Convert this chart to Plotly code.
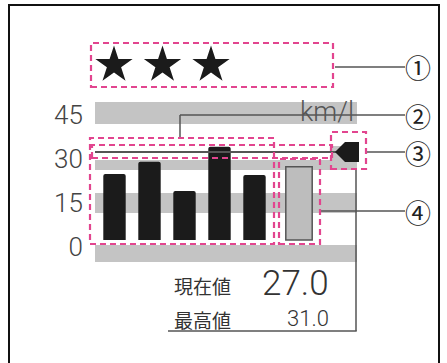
import plotly.graph_objects as go

# 燃費履歴（エコ表示）
HISTORY_VALUES = [22.5, 26.7, 16.7, 31.8, 22.2]
CURRENT_VALUE = [25.0]
BEST_LINE = 30
STAR_COUNT = 3
Y_TICKS = [0, 15, 30, 45]
Y_TICK_TEXT = ["0", "15", "30", "45"]
UNIT = "km/l"
READOUT_LABELS = ["現在値", "最高値"]
READOUT_VALUES = ["27.0", "31.0"]
CALLOUTS = ["①", "②", "③", "④"]

W, H = 447, 363
PINK = "#e2458f"
GRAY_BAND = "#c4c4c4"
LINE = "#555555"
JP = "Noto Sans CJK JP"
NUM = "Roboto"

# 値 -> 画素: 0 は y=240、30 は y=152
S = 88 / 30
Y0 = 240


def fx(p):
    return p / W


def fy(p):
    return 1 - p / H


fig = go.Figure()

# 過去の記録
fig.add_trace(go.Bar(
    x=list(range(len(HISTORY_VALUES))), y=HISTORY_VALUES,
    xaxis="x2", yaxis="y2", width=0.64,
    marker=dict(color="#1b1b1b", line=dict(width=0), cornerradius=2),
    hoverinfo="skip",
))
# 現在値
fig.add_trace(go.Bar(
    x=[0], y=CURRENT_VALUE, xaxis="x3", yaxis="y2", width=0.66,
    marker=dict(color="#bdbdbd", line=dict(color=LINE, width=1.5)),
    hoverinfo="skip",
))
# 星
fig.add_trace(go.Scatter(
    x=list(range(STAR_COUNT)), y=[0.5] * STAR_COUNT, xaxis="x4", yaxis="y3",
    mode="markers",
    marker=dict(symbol="star", size=28, color="#1b1b1b", line=dict(width=0)),
    hoverinfo="skip",
))

shapes = []


def rect(x0, y0, x1, y1, **kw):
    shapes.append(dict(type="rect", xref="paper", yref="paper",
                       x0=fx(x0), x1=fx(x1), y0=fy(y1), y1=fy(y0), **kw))


def line(x0, y0, x1, y1, color=LINE, width=1.5, layer="above"):
    shapes.append(dict(type="line", xref="paper", yref="paper",
                       x0=fx(x0), x1=fx(x1), y0=fy(y0), y1=fy(y1), layer=layer,
                       line=dict(color=color, width=width)))


# 外枠
rect(9, 5, 439, 372, line=dict(color="#111111", width=2), layer="below")

# 灰色の帯
for a, b in [(102, 124), (160, 170), (193, 213), (245, 262)]:
    rect(95, a, 357, b, fillcolor=GRAY_BAND, line=dict(width=0), layer="below")
rect(331, 146, 357, 170, fillcolor=GRAY_BAND, line=dict(width=0), layer="below")

# 基準線とマーカー
shapes.append(dict(type="line", xref="paper", yref="y2", x0=fx(95), x1=fx(338),
                   y0=BEST_LINE, y1=BEST_LINE, line=dict(color=LINE, width=2)))
shapes.append(dict(
    type="path", xref="paper", yref="y2", ysizemode="pixel", yanchor=BEST_LINE,
    path=f"M {fx(335)},0 L {fx(345)},10 L {fx(359)},10 L {fx(359)},-10 L {fx(345)},-10 Z",
    fillcolor="#1b1b1b", line=dict(width=0),
))

# 右下の枠
line(356, 170, 356, 331)
line(168, 331, 356.7, 331)

# 引き出し線
line(335, 67, 405, 67)
line(180, 138, 180, 115)
line(180, 115, 405, 115)
line(367, 152, 405, 152)
line(320, 211, 405, 211)

# ピンクの点線枠
dash = dict(color=PINK, width=2.2, dash="6px,4px")
rect(91, 43, 333, 87, line=dash)
rect(90, 138, 274, 244, line=dash)
rect(92, 145, 332, 158, line=dash)
rect(331, 132, 366, 169, line=dash)
rect(279, 159, 320, 244, line=dash)

annotations = []


def text(x, y, s, size, xanchor="center", family=JP, color="#333333", weight=None):
    f = dict(family=family, size=size, color=color)
    if weight:
        f["weight"] = weight
    annotations.append(dict(xref="paper", yref="paper", x=fx(x), y=fy(y), text=s,
                            showarrow=False, xanchor=xanchor, yanchor="middle",
                            font=f))


text(356, 112, UNIT, 27, "right", NUM, "#555555", 300)
for i, c in enumerate(CALLOUTS):
    text(418, [67, 115, 152, 211][i], c, 26, color="#222222")
text(172, 285, READOUT_LABELS[0], 19, "left")
text(172, 319, READOUT_LABELS[1], 19, "left")
text(331, 283, READOUT_VALUES[0], 35, "right", NUM, "#333333", 300)
text(331, 318, READOUT_VALUES[1], 22, "right", NUM, "#333333", 300)

fig.update_layout(
    width=W, height=H,
    margin=dict(l=0, r=0, t=0, b=0),
    paper_bgcolor="white", plot_bgcolor="rgba(0,0,0,0)",
    showlegend=False,
    shapes=shapes, annotations=annotations,
    xaxis=dict(visible=False),
    yaxis=dict(visible=False),
    xaxis2=dict(domain=[fx(97), fx(272)], range=[-0.5, len(HISTORY_VALUES) - 0.5],
                anchor="y2", visible=False),
    xaxis3=dict(domain=[fx(279), fx(319)], range=[-0.5, 0.5], anchor="y2", visible=False),
    xaxis4=dict(domain=[fx(89.75), fx(332.25)], range=[-0.5, 4.5], anchor="y3",
                visible=False),
    yaxis2=dict(domain=[0, 1], range=[-(H - Y0) / S, Y0 / S], anchor="free",
                position=fx(95), showgrid=False, zeroline=False, showline=False,
                tickvals=Y_TICKS, ticktext=Y_TICK_TEXT, ticks="outside", ticklen=7,
                tickcolor="rgba(0,0,0,0)", ticklabelshift=7,
                tickfont=dict(family=NUM, size=26, color="#444444", weight=300)),
    yaxis3=dict(domain=[fy(87), fy(43)], range=[0, 1], anchor="x4", visible=False),
)

fig.write_html("out.html", config={"displayModeBar": False},
               post_script="document.body.style.margin='0';")
